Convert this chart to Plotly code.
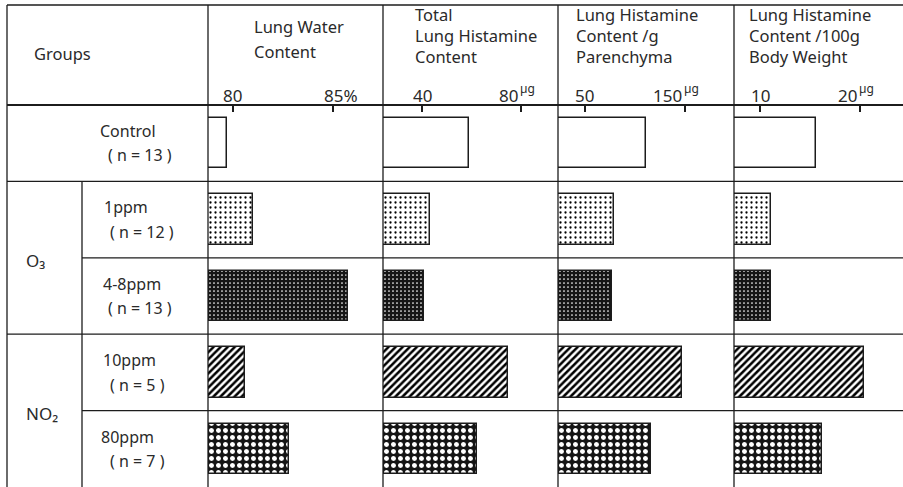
import plotly.graph_objects as go

# ---------------- data ----------------
dose_labels = ["Control", "1ppm", "4-8ppm", "10ppm", "80ppm"]
n_labels = ["( n = 13 )", "( n = 12 )", "( n = 13 )", "( n = 5 )", "( n = 7 )"]
gas_labels = ["O₃", "NO₂"]

lung_water = [79.7, 81.0, 85.75, 80.6, 82.8]            # %
total_histamine = [58.8, 43.1, 40.7, 74.9, 62.2]         # µg
histamine_per_g = [110.7, 79.3, 77.3, 147.0, 115.4]      # µg / g parenchyma
histamine_per_100g = [15.6, 11.1, 11.1, 20.4, 16.2]      # µg / 100 g body weight

panel_titles = [
    ["Lung Water", "Content"],
    ["Total", "Lung Histamine", "Content"],
    ["Lung Histamine", "Content /g", "Parenchyma"],
    ["Lung Histamine", "Content /100g", "Body Weight"],
]
tick_values = [[80, 85], [40, 80], [50, 150], [10, 20]]
tick_texts = [["80", "85%"], ["40", "80"], ["50", "150"], ["10", "20"]]
tick_units = [["", ""], ["", "µg"], ["", "µg"], ["", "µg"]]

# ---------------- layout constants ----------------
W, H = 903, 487
HEADER_BOTTOM = 105
edges = [208, 383, 558, 734, 903]
axis_ranges = [[78.77, 87.48], [24.07, 95.0], [23.1, 198.6], [7.37, 24.27]]
LINE = "#1c1c1c"
TEXT = "#2a2a2a"
FONT = "Noto Sans"


def px(x):
    return x / W


def py(y):
    return 1 - y / H


# pattern styles per row
pat_shape = ["", ".", ".", "/", "."]
pat_fg = ["black", "black", "white", "black", "white"]
pat_bg = ["white", "white", "#151515", "white", "#151515"]
pat_size = [6, 5, 4, 5, 7]
pat_sol = [0.2, 0.16, 0.15, 0.5, 0.4]

fig = go.Figure()
series = [lung_water, total_histamine, histamine_per_g, histamine_per_100g]
rows = list(range(len(dose_labels)))

for k, vals in enumerate(series):
    ax = "" if k == 0 else str(k + 1)
    lo = axis_ranges[k][0]
    fig.add_trace(go.Bar(
        y=rows, x=[v - lo for v in vals], base=lo, orientation="h",
        width=0.66,
        xaxis="x" + ax, yaxis="y",
        marker=dict(
            color="white",
            line=dict(color=LINE, width=1.5),
            pattern=dict(shape=pat_shape, fgcolor=pat_fg, bgcolor=pat_bg,
                         size=pat_size, solidity=pat_sol, fillmode="replace"),
        ),
        hoverinfo="skip", showlegend=False,
    ))
    fig.update_layout(**{
        "xaxis" + ax: dict(
            domain=[px(edges[k]), px(edges[k + 1])],
            range=axis_ranges[k], anchor="y", side="top",
            tickvals=tick_values[k], ticks="inside", ticklen=7, tickwidth=1.5,
            tickcolor=LINE, showticklabels=False, showgrid=False,
            zeroline=False, showline=False, fixedrange=True,
        )
    })
    # tick labels
    for tv, tt, tu in zip(tick_values[k], tick_texts[k], tick_units[k]):
        is_pct = tt.endswith("%")
        if tu:
            fig.add_annotation(
                x=tv, xref="x" + ax, y=py(95), yref="paper",
                text=tt, showarrow=False, xanchor="right", yanchor="middle",
                xshift=-1, font=dict(family=FONT, size=17, color=TEXT),
            )
            fig.add_annotation(
                x=tv, xref="x" + ax, y=py(88), yref="paper",
                text=tu, showarrow=False, xanchor="left", yanchor="middle",
                xshift=-3, font=dict(family=FONT, size=12, color=TEXT),
            )
        else:
            fig.add_annotation(
                x=tv, xref="x" + ax, y=py(95), yref="paper",
                text=tt, showarrow=False,
                xanchor="left" if is_pct else "center", yanchor="middle",
                xshift=-11 if is_pct else 0,
                font=dict(family=FONT, size=17, color=TEXT),
            )
    # titles
    lines = panel_titles[k]
    if len(lines) == 2:
        ys = [26, 51]
        xl = 252
    else:
        ys = [15, 35, 56]
        xl = edges[k] + [0, 30, 16, 13][k]
    for t, yy in zip(lines, ys):
        fig.add_annotation(
            x=px(xl), xref="paper", y=py(yy), yref="paper",
            text=t, showarrow=False, xanchor="left", yanchor="middle",
            font=dict(family=FONT, size=16.5, color=TEXT),
        )

fig.update_layout(
    yaxis=dict(domain=[0, py(HEADER_BOTTOM)], range=[4.5, -0.5], visible=False,
               fixedrange=True),
)

# ---------------- table lines ----------------
shapes = []


def hline(y, x0, x1, width=1.3, yref="paper"):
    shapes.append(dict(type="line", xref="paper", yref=yref, x0=px(x0), x1=px(x1),
                       y0=y, y1=y, line=dict(color=LINE, width=width)))


def vline(x, y0, y1, width=1.3, yref="paper"):
    shapes.append(dict(type="line", xref="paper", yref=yref, x0=px(x), x1=px(x),
                       y0=y0, y1=y1, line=dict(color=LINE, width=width)))


hline(py(5), 7, W)
hline(py(HEADER_BOTTOM), 7, W, width=2)
vline(7, py(5), 0)
for e in edges[:-1]:
    vline(e, py(5), 0)
# inner vertical in the label column, from the first group boundary down
shapes.append(dict(type="line", xref="paper", yref="paper", x0=px(82), x1=px(82),
                   y0=0, y1=py(182), line=dict(color=LINE, width=1.3)))
group_boundaries = {0.5, 2.5}
for b in [0.5, 1.5, 2.5, 3.5]:
    hline(b, 7 if b in group_boundaries else 82, W, yref="y")

fig.update_layout(shapes=shapes)

# ---------------- row labels ----------------
dose_x = [98, 102, 101, 101, 99]
n_x = [106, 108, 106, 108, 108]
for i in rows:
    fig.add_annotation(x=px(dose_x[i]), xref="paper", y=i - 0.16, yref="y",
                       text=dose_labels[i], showarrow=False, xanchor="left",
                       yanchor="middle", font=dict(family=FONT, size=16, color=TEXT))
    fig.add_annotation(x=px(n_x[i]), xref="paper", y=i + 0.16, yref="y",
                       text=n_labels[i], showarrow=False, xanchor="left",
                       yanchor="middle", font=dict(family=FONT, size=16, color=TEXT))

for g, yc in zip(gas_labels, [1.5, 3.5]):
    fig.add_annotation(x=px(24), xref="paper", y=yc + 0.04, yref="y",
                       text=g, showarrow=False, xanchor="left", yanchor="middle",
                       font=dict(family=FONT, size=17, color=TEXT))

fig.add_annotation(x=px(32), xref="paper", y=py(53), yref="paper", text="Groups",
                   showarrow=False, xanchor="left", yanchor="middle",
                   font=dict(family=FONT, size=16.5, color=TEXT))

fig.update_layout(
    width=W, height=H,
    margin=dict(l=0, r=0, t=0, b=0),
    paper_bgcolor="white", plot_bgcolor="white",
    bargap=0,
)

fig.write_html("out.html", config={"displayModeBar": False},
               post_script="document.body.style.margin='0px';")
